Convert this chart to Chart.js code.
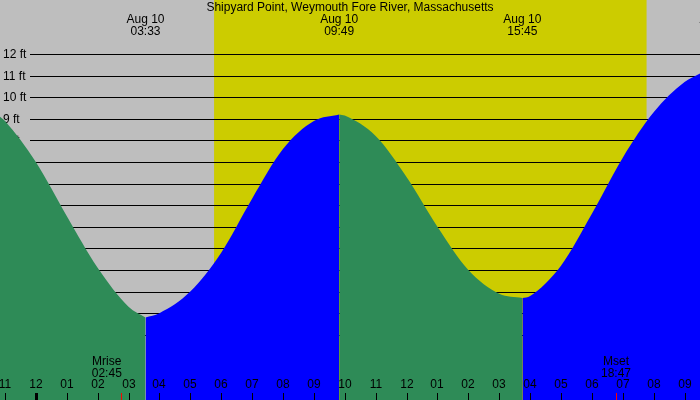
<!DOCTYPE html><html><head><script src="https://cdn.jsdelivr.net/npm/chart.js"></script>
<style>body{margin:0;background:#bebebe}#w{width:700px;height:400px}</style></head><body><div id="w"><canvas id="c"></canvas></div>
<script>
const title = "Shipyard Point, Weymouth Fore River, Massachusetts";
const hours = [-1.16,-1,0,1,2,3,3.55,4,5,6,7,8,9,9.82,10,11,12,13,14,15,15.75,16,17,18,19,20,21,21.5];
const heights = [9.1,8.9,7.0,4.5,2.1,0.3,-0.2,0.0,1.0,2.8,5.3,7.6,8.9,9.2,9.15,8.2,6.3,4.0,2.0,0.9,0.7,0.8,2.2,4.6,7.2,9.3,10.7,11.1];
const extremeHours = [3.55, 9.82, 15.75, 22.1];
const extremeDates = ["Aug 10","Aug 10","Aug 10","Aug 10"];
const extremeTimes = ["03:33","09:49","15:45","22:04"];
const dayStart = 5.77, dayEnd = 19.77;
const ftTicks = [-1,0,1,2,3,4,5,6,7,8,9,10,11,12];
const hourTicks = [-1,0,1,2,3,4,5,6,7,8,9,10,11,12,13,14,15,16,17,18,19,20,21];
const hourLabels = ["11","12","01","02","03","04","05","06","07","08","09","10","11","12","01","02","03","04","05","06","07","08","09"];
const moonEvents = [{h:2.75,name:"Mrise",t:"02:45"},{h:18.78,name:"Mset",t:"18:47"}];
const segs = [[-1.16,3.55,'#2e8b57'],[3.55,9.82,'#0000ff'],[9.82,15.75,'#2e8b57'],[15.75,21.5,'#0000ff']];
const datasets = segs.map(([a,b,col])=>({data:hours.map((h,i)=>({x:h,y:heights[i]})).filter(p=>p.x>=a&&p.x<=b),
  borderWidth:0,pointRadius:0,backgroundColor:col,fill:'start',cubicInterpolationMode:'monotone'}));
const F='"Liberation Sans Narrow","Liberation Sans",Arial,sans-serif';
const deco={id:'deco',
 beforeDatasetsDraw(ch){const c=ch.ctx,x=ch.scales.x,y=ch.scales.y;
  c.save();c.fillStyle='#cccc00';const x1=x.getPixelForValue(dayStart),x2=x.getPixelForValue(dayEnd);c.fillRect(x1,0,x2-x1,400);
  c.strokeStyle='#000';c.lineWidth=1;c.font='12px '+F;c.fillStyle='#000';c.textBaseline='middle';
  ftTicks.forEach(v=>{const py=Math.round(y.getPixelForValue(v))+0.5;c.beginPath();c.moveTo(30,py);c.lineTo(700,py);c.stroke();c.textAlign='left';c.fillText(v+' ft',3,py);});
  c.restore();},
 afterDatasetsDraw(ch){const c=ch.ctx,x=ch.scales.x;c.save();c.font='12px '+F;c.fillStyle='#000';c.textAlign='center';c.textBaseline='middle';
  c.fillText(title,350,8);
  extremeHours.forEach((h,i)=>{const px=x.getPixelForValue(h);c.fillText(extremeDates[i],px,20);c.fillText(extremeTimes[i],px,32);});
  hourTicks.forEach((h,i)=>{const px=Math.round(x.getPixelForValue(h));c.fillText(hourLabels[i],px,385);c.fillRect(px-(h===0?1:0),393,h===0?3:1,7);});
  moonEvents.forEach(m=>{const px=x.getPixelForValue(m.h);c.fillText(m.name,px-(m.h<10?14:0),362);c.fillText(m.t,px-(m.h<10?14:0),374);c.fillStyle='#f00';c.fillRect(Math.round(px),393,1,7);c.fillStyle='#000';});
  c.restore();}};
new Chart(document.getElementById('c'),{type:'line',data:{datasets},plugins:[deco],
 options:{animation:false,responsive:true,maintainAspectRatio:false,layout:{padding:0},
  plugins:{legend:{display:false},tooltip:{enabled:false}},
  scales:{x:{type:'linear',min:-1.16,max:21.5,display:false},y:{min:-4.02,max:14.5,display:false}}}});
</script></body></html>
